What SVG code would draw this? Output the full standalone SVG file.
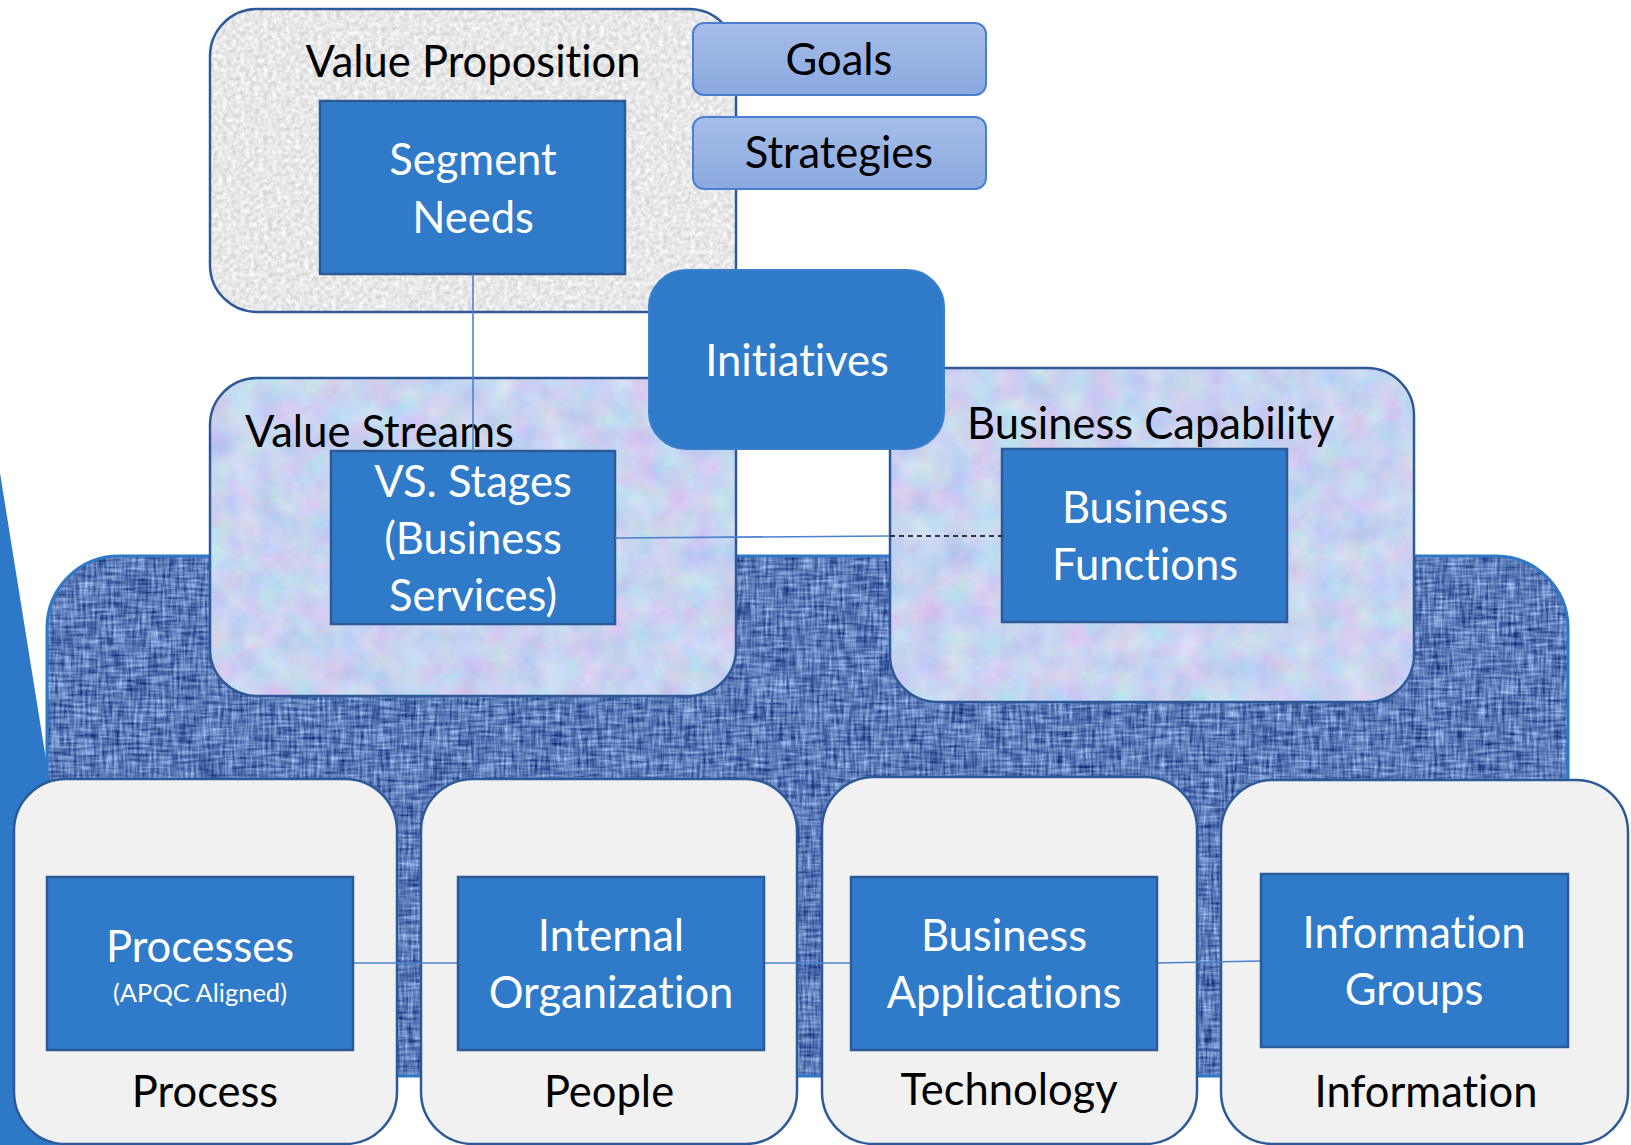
<svg xmlns="http://www.w3.org/2000/svg" width="1631" height="1145" viewBox="0 0 1631 1145">
<defs>
<style>
.t{font-family:Lato,"Open Sans","Liberation Sans",sans-serif;font-size:43.5px;font-variant-ligatures:none}
.w{fill:#ffffff}
.k{fill:#000000}
.c{text-anchor:middle}
.inner{fill:#2f7bca;stroke:#2c5a98;stroke-width:2.5}
.cont{fill:none;stroke:#2c5a98;stroke-width:2.5}
.bot{fill:#f1f1f1;stroke:#2c5a98;stroke-width:2.5}
.tab{fill:url(#tabGrad);stroke:#4a7fd0;stroke-width:2}
.ln{stroke:#4a82d0;stroke-width:1.6;fill:none}
</style>
<linearGradient id="tabGrad" x1="0" y1="0" x2="0" y2="1">
<stop offset="0" stop-color="#a6bde8"/>
<stop offset="1" stop-color="#8aa9e0"/>
</linearGradient>
<filter id="greyTex" x="0" y="0" width="100%" height="100%" color-interpolation-filters="sRGB">
<feTurbulence type="fractalNoise" baseFrequency="0.22" numOctaves="3" seed="4" result="n"/>
<feColorMatrix in="n" type="matrix" values="0.26 0 0 0 0.78  0.26 0 0 0 0.78  0.26 0 0 0 0.78  0 0 0 0 1" result="g"/>
<feComposite in="g" in2="SourceGraphic" operator="in"/>
</filter>
<filter id="pastelTex" x="0" y="0" width="100%" height="100%" color-interpolation-filters="sRGB">
<feTurbulence type="fractalNoise" baseFrequency="0.035" numOctaves="4" seed="7" result="n"/>
<feColorMatrix in="n" type="matrix" values="0.25 0 0 0 0.66  0 0.2 0 0 0.73  0 0 0.1 0 0.89  0 0 0 0 1" result="g"/>
<feComposite in="g" in2="SourceGraphic" operator="in"/>
</filter>
<filter id="canvasTex" x="0" y="0" width="100%" height="100%" color-interpolation-filters="sRGB">
<feTurbulence type="fractalNoise" baseFrequency="0.35 0.04" numOctaves="2" seed="5" result="h"/>
<feTurbulence type="fractalNoise" baseFrequency="0.04 0.35" numOctaves="2" seed="9" result="v"/>
<feComposite in="h" in2="v" operator="arithmetic" k2="0.5" k3="0.5" result="hv"/>
<feColorMatrix in="hv" type="matrix" values="1.1 0 0 0 -0.19  1.1 0 0 0 -0.07  0.9 0 0 0 0.27  0 0 0 0 1" result="col"/>
<feComposite in="col" in2="SourceGraphic" operator="in"/>
</filter>
</defs>
<rect x="0" y="0" width="1631" height="1145" fill="#ffffff"/>

<g id="wedge">
<polygon points="0,473 49,778 60,1145 0,1145" fill="#2e78c8"/>
</g>

<g id="foundation">
<rect x="47" y="556" width="1521" height="520" rx="72" fill="#5577b5" filter="url(#canvasTex)"/>
<rect x="47" y="556" width="1521" height="520" rx="72" fill="none" stroke="#2e78c8" stroke-width="3"/>
</g>

<g id="value-proposition">
<rect x="210" y="9" width="526" height="303" rx="47" fill="#e5e5e5" filter="url(#greyTex)"/>
<rect x="210" y="9" width="526" height="303" rx="47" class="cont"/>
<text x="473" y="77" class="t k c">Value Proposition</text>
</g>

<g id="goals">
<rect x="693" y="23" width="293" height="72" rx="11" class="tab"/>
<text x="839" y="75" class="t k c">Goals</text>
</g>
<g id="strategies">
<rect x="693" y="117" width="293" height="72" rx="11" class="tab"/>
<text x="839" y="168" class="t k c">Strategies</text>
</g>

<g id="value-streams">
<rect x="210" y="378" width="526" height="318" rx="47" fill="#cdd8f0" filter="url(#pastelTex)"/>
<rect x="210" y="378" width="526" height="318" rx="47" class="cont"/>
<text x="245" y="447" class="t k">Value Streams</text>
</g>

<g id="business-capability">
<rect x="890" y="368" width="524" height="334" rx="47" fill="#cdd8f0" filter="url(#pastelTex)"/>
<rect x="890" y="368" width="524" height="334" rx="47" class="cont"/>
<text x="967" y="439" class="t k">Business Capability</text>
</g>

<g id="initiatives">
<rect x="649" y="270" width="295" height="179" rx="37" fill="#2f7bca" stroke="#3a7fcc" stroke-width="2"/>
<text x="797" y="376" class="t w c">Initiatives</text>
</g>

<g id="segment-needs">
<rect x="320" y="101" width="305" height="173" class="inner"/>
<text x="473" y="175" class="t w c">Segment</text>
<text x="473" y="233" class="t w c">Needs</text>
</g>

<g id="vs-stages">
<rect x="331" y="451" width="284" height="173" class="inner"/>
<text x="473" y="497" class="t w c">VS. Stages</text>
<text x="473" y="554" class="t w c">(Business</text>
<text x="473" y="611" class="t w c">Services)</text>
</g>

<g id="business-functions">
<rect x="1002" y="449" width="285" height="173" class="inner"/>
<text x="1145" y="523" class="t w c">Business</text>
<text x="1145" y="580" class="t w c">Functions</text>
</g>

<g id="process">
<rect x="14" y="779" width="383" height="365" rx="52" class="bot"/>
<text x="205" y="1107" class="t k c">Process</text>
</g>
<g id="people">
<rect x="421" y="779" width="376" height="365" rx="52" class="bot"/>
<text x="609" y="1107" class="t k c">People</text>
</g>
<g id="technology">
<rect x="822" y="777" width="375" height="367" rx="52" class="bot"/>
<text x="1009" y="1105" class="t k c">Technology</text>
</g>
<g id="information">
<rect x="1221" y="780" width="407" height="364" rx="52" class="bot"/>
<text x="1426" y="1107" class="t k c">Information</text>
</g>

<g id="connectors">
<line x1="473" y1="274" x2="473" y2="451" class="ln"/>
<line x1="615" y1="538" x2="890" y2="536" class="ln"/>
<line x1="890" y1="536" x2="1002" y2="536" stroke="#000" stroke-width="1.5" stroke-dasharray="5,4"/>
<line x1="353" y1="963" x2="458" y2="963" class="ln"/>
<line x1="764" y1="963" x2="851" y2="963" class="ln"/>
<line x1="1157" y1="963" x2="1261" y2="961" class="ln"/>
</g>

<g id="processes">
<rect x="47" y="877" width="306" height="173" class="inner"/>
<text x="200" y="962" class="t w c">Processes</text>
<text x="200" y="1002" class="t w c" style="font-size:25.5px">(APQC Aligned)</text>
</g>
<g id="internal-organization">
<rect x="458" y="877" width="306" height="173" class="inner"/>
<text x="611" y="951" class="t w c">Internal</text>
<text x="611" y="1008" class="t w c">Organization</text>
</g>
<g id="business-applications">
<rect x="851" y="877" width="306" height="173" class="inner"/>
<text x="1004" y="951" class="t w c">Business</text>
<text x="1004" y="1008" class="t w c">Applications</text>
</g>
<g id="information-groups">
<rect x="1261" y="874" width="307" height="173" class="inner"/>
<text x="1414" y="948" class="t w c">Information</text>
<text x="1414" y="1005" class="t w c">Groups</text>
</g>
</svg>
